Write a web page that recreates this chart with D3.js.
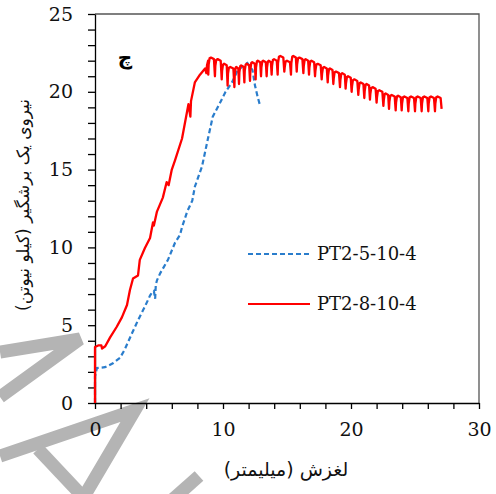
<!DOCTYPE html>
<html>
<head>
<meta charset="utf-8">
<script src="https://cdn.jsdelivr.net/npm/d3@7"></script>
<style>
  body { margin: 0; background: #fff; }
  svg { display: block; }
  .num { font-family: "DejaVu Serif", "Liberation Serif", serif; }
  .fa { font-family: "DejaVu Sans", sans-serif; }
</style>
</head>
<body>
<svg id="chart"></svg>
<script>
var width = 496;
var height = 494;

// tick labels
var xTickLabels = [0, 10, 20, 30];
var yTickLabels = [0, 5, 10, 15, 20, 25];
var seriesNames = ["PT2-5-10-4", "PT2-8-10-4"];

// PT2-5-10-4 (dashed blue)
var blueX = [0, 0, 0.15, 0.78, 1.4, 1.95, 2.3, 2.9, 3.35, 3.9, 4.3, 4.45, 4.6, 4.7, 4.75, 4.85,
    5.1, 5.7, 6.25, 6.64, 6.8, 7.2, 7.6, 7.8, 8.36, 8.8, 9.2, 9.77, 10.2, 10.7, 11.1, 11.6,
    11.9, 12.3, 12.5, 12.7, 12.9];
var blueY = [0, 1.7, 2.25, 2.3, 2.55, 2.9, 3.4, 4.5, 5.3, 6.2, 6.9, 7.1, 7.2, 6.7, 7.6, 7.9,
    8.35, 9.2, 10.3, 10.8, 11.3, 12.3, 13.0, 13.9, 15.2, 16.9, 18.4, 19.3, 20.0, 20.6, 21.3, 21.7,
    21.85, 21.4, 20.4, 19.7, 19.1];

// PT2-8-10-4 (red), rising part
var redX = [0, 0, 0.25, 0.5, 0.55, 0.8, 1.17, 1.7, 2.1, 2.5, 2.73, 2.97, 3.36, 3.5, 3.9, 4.3,
    4.53, 4.6, 4.84, 5.3, 5.6, 5.75, 6.0, 6.25, 6.8, 7.3, 7.45, 7.5, 7.8, 8.2, 8.6, 8.7, 8.75];
var redY = [0, 3.6, 3.7, 3.7, 3.5, 3.65, 4.2, 4.9, 5.5, 6.3, 7.26, 8.0, 8.2, 9.2, 9.96, 10.6,
    11.6, 11.4, 12.3, 13.2, 14.2, 14.0, 15.0, 15.6, 17.0, 19.2, 18.4, 19.4, 20.6, 21.1, 21.5, 21.2, 21.7];

// red plateau: unloading spikes (position, level before spike, bottom of spike)
var teethX = [8.85, 9.37, 9.9, 10.36, 10.89, 11.25, 11.67, 12.11, 12.55, 12.97, 13.41, 13.8,
    14.27, 14.79, 15.31, 15.76, 16.28, 16.72, 17.19, 17.71, 18.18, 18.62, 19.14, 19.58, 20.05,
    20.57, 21.04, 21.48, 22.0, 22.53, 22.97, 23.49, 23.96, 24.48, 25.0, 25.52, 26.04, 26.56, 27.08];
var teethTop = [22.1, 22.2, 22.1, 21.8, 21.6, 21.6, 21.7, 21.8, 21.9, 22.0, 22.0, 22.0,
    22.1, 22.3, 22.0, 22.3, 22.2, 22.1, 22.0, 21.8, 21.6, 21.5, 21.3, 21.2, 21.0,
    20.8, 20.6, 20.5, 20.3, 20.1, 19.9, 19.8, 19.75, 19.7, 19.7, 19.7, 19.7, 19.7, 19.7];
var teethDip = [21.1, 21.0, 20.8, 20.4, 20.3, 20.5, 20.6, 20.7, 20.8, 21.0, 21.0, 21.1,
    21.1, 21.3, 21.1, 21.3, 21.2, 21.1, 21.0, 20.8, 20.6, 20.5, 20.3, 20.2, 20.0,
    19.8, 19.6, 19.5, 19.3, 19.1, 18.9, 18.8, 18.8, 18.75, 18.75, 18.75, 18.75, 18.75, 18.9];

var svg = d3.select("#chart")
    .attr("width", width)
    .attr("height", height);

// watermark strokes behind the chart
var wm = svg.append("g")
    .attr("fill", "none")
    .attr("stroke", "#b4b4b4")
    .attr("stroke-width", 13)
    .attr("stroke-linejoin", "miter");
[
    [[0, 352], [80, 339], [0, 397]],
    [[0, 456], [135, 410], [82, 500]],
    [[38, 449], [86, 500]],
    [[199, 476], [172, 500]]
].forEach(function (p) {
    wm.append("path").attr("d", d3.line()(p));
});

var x = d3.scaleLinear().domain([0, 30]).range([95, 479]);
var y = d3.scaleLinear().domain([0, 25]).range([403, 14]);

// frame (top and right)
svg.append("path")
    .attr("d", "M" + x(0) + "," + y(25) + "H" + x(30) + "V" + y(0))
    .attr("fill", "none")
    .attr("stroke", "#555")
    .attr("stroke-width", 1.3);

var yAxis = d3.axisLeft(y)
    .tickValues(d3.range(0, 26, 1))
    .tickSize(7)
    .tickSizeOuter(0)
    .tickPadding(15)
    .tickFormat(function (d) { return yTickLabels.indexOf(d) >= 0 ? d : ""; });

var xAxis = d3.axisBottom(x)
    .tickValues(d3.range(0, 31, 2))
    .tickSize(6)
    .tickSizeOuter(0)
    .tickPadding(14)
    .tickFormat(function (d) { return xTickLabels.indexOf(d) >= 0 ? d : ""; });

var gy = svg.append("g")
    .attr("transform", "translate(" + x(0) + ",0)")
    .call(yAxis);
var gx = svg.append("g")
    .attr("transform", "translate(0," + y(0) + ")")
    .call(xAxis);

[gx, gy].forEach(function (g) {
    g.attr("font-family", null).attr("font-size", null);
    g.selectAll("path, line").attr("stroke", "#000").attr("stroke-width", 1.3);
    g.selectAll("text")
        .attr("class", "num")
        .attr("fill", "#111")
        .style("font-size", "19px");
});

// build red series with spikes
var redPts = redX.map(function (v, i) { return [v, redY[i]]; });
teethX.forEach(function (tx, i) {
    var top = teethTop[i], dip = teethDip[i];
    var prev = i ? teethX[i - 1] : redX[redX.length - 1];
    var w = tx - prev;
    if (i) {
        redPts.push([prev + 0.03, top - 0.45], [prev + 0.1, top - 0.05], [prev + w * 0.4, top]);
    }
    redPts.push([tx - w * 0.15, top - 0.1], [tx, dip]);
});
var bluePts = blueX.map(function (v, i) { return [v, blueY[i]]; });

var line = d3.line()
    .x(function (d) { return x(d[0]); })
    .y(function (d) { return y(d[1]); });

svg.append("path")
    .datum(bluePts)
    .attr("d", line)
    .attr("fill", "none")
    .attr("stroke", "#2a7dcc")
    .attr("stroke-width", 2.2)
    .attr("stroke-dasharray", "5,3");

svg.append("path")
    .datum(redPts)
    .attr("d", line)
    .attr("fill", "none")
    .attr("stroke", "#ff0000")
    .attr("stroke-width", 2.3)
    .attr("stroke-linejoin", "round");

// legend
var legend = svg.append("g");
var legendItems = [
    { name: seriesNames[0], color: "#2a7dcc", dash: "5,3", yy: 254 },
    { name: seriesNames[1], color: "#ff0000", dash: null, yy: 304 }
];
legendItems.forEach(function (d) {
    legend.append("line")
        .attr("x1", 248).attr("x2", 310)
        .attr("y1", d.yy).attr("y2", d.yy)
        .attr("stroke", d.color)
        .attr("stroke-width", 2.2)
        .attr("stroke-dasharray", d.dash);
    legend.append("text")
        .attr("class", "num")
        .attr("x", 317).attr("y", d.yy)
        .attr("dy", "0.35em")
        .style("font-size", "18px")
        .attr("fill", "#111")
        .text(d.name);
});

// panel label
svg.append("text")
    .attr("class", "fa")
    .attr("x", 125).attr("y", 57)
    .attr("text-anchor", "middle")
    .attr("dy", "0.35em")
    .style("font-weight", "bold")
    .style("font-size", "20px")
    .text("چ");

// axis titles
svg.append("text")
    .attr("class", "fa")
    .attr("x", 286).attr("y", 476)
    .attr("text-anchor", "middle")
    .attr("direction", "rtl")
    .style("font-size", "19px")
    .attr("fill", "#111")
    .text("لغزش (میلیمتر)");

svg.append("text")
    .attr("class", "fa")
    .attr("transform", "translate(29,205) rotate(-90)")
    .attr("text-anchor", "middle")
    .attr("direction", "rtl")
    .style("font-size", "17px")
    .attr("fill", "#111")
    .text("نیروی یک برشگیر (کیلو نیوتن)");
</script>
</body>
</html>
